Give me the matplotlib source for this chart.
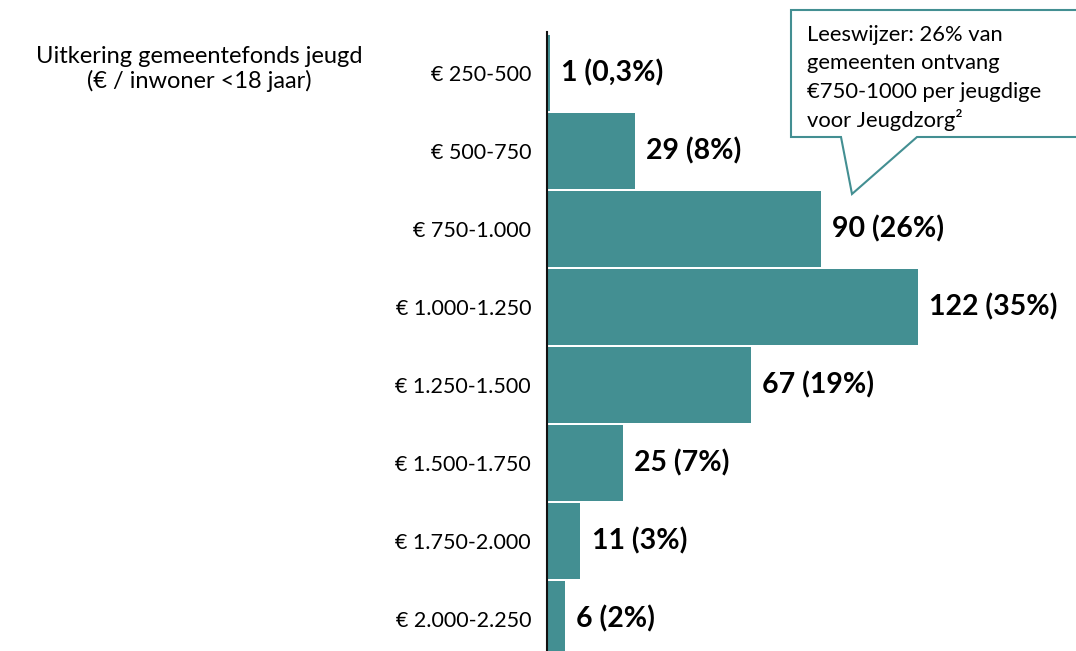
import matplotlib
matplotlib.use("Agg")
import matplotlib.pyplot as plt
from matplotlib.patches import Polygon

plt.rcParams['font.family'] = ['Lato', 'DejaVu Sans']

categories = ["€ 250-500", "€ 500-750", "€ 750-1.000", "€ 1.000-1.250",
              "€ 1.250-1.500", "€ 1.500-1.750", "€ 1.750-2.000", "€ 2.000-2.250"]
counts = [1, 29, 90, 122, 67, 25, 11, 6]
value_labels = ["1 (0,3%)", "29 (8%)", "90 (26%)", "122 (35%)",
                "67 (19%)", "25 (7%)", "11 (3%)", "6 (2%)"]
title_lines = "Uitkering gemeentefonds jeugd\n(€ / inwoner <18 jaar)"
bubble_lines = ["Leeswijzer: 26% van", "gemeenten ontvang",
                "€750-1000 per jeugdige", "voor Jeugdzorg²"]

teal = "#438F92"
W, H = 1076, 651
fig = plt.figure(figsize=(W / 100, H / 100), dpi=100)

x0 = 547
ax_top = 32
ax = fig.add_axes([x0 / W, 0, (W - x0) / W, 1 - ax_top / H])
pos = list(range(len(categories)))
ax.barh(pos, counts, height=0.975, color=teal, edgecolor='none')
ax.set_xlim(0, (W - x0) / 3.04)
ax.set_ylim(7.41, -0.526)
for s in ['top', 'right', 'bottom']:
    ax.spines[s].set_visible(False)
ax.spines['left'].set_color('#111111')
ax.spines['left'].set_linewidth(1.5)
ax.set_xticks([])
ax.set_yticks(pos)
ax.set_yticklabels(categories, fontsize=15.5)
ax.tick_params(axis='y', length=0, pad=11.5)
for p, c, lab in zip(pos, counts, value_labels):
    ax.annotate(lab, (c, p), xytext=(8, 0), textcoords='offset points',
                va='center', ha='left', fontsize=20.5, fontweight='bold', color='black')

fig.text(199 / W, 1 - 69 / H, title_lines, ha='center', va='center',
         fontsize=17, linespacing=1.15)

# speech bubble
pts = [(791, 10), (1080, 10), (1080, 137), (917, 137), (852, 194), (841, 137), (791, 137)]
pts_fig = [(x / W, 1 - y / H) for x, y in pts]
bubble = Polygon(pts_fig, closed=True, transform=fig.transFigure,
                 facecolor='white', edgecolor=teal, linewidth=1.5)
fig.patches.append(bubble)
for i, line in enumerate(bubble_lines):
    fig.text(807 / W, 1 - (33 + 28.3 * i) / H, line, ha='left', va='center_baseline',
             fontsize=15.8)

fig.savefig("out.png", dpi=100)
